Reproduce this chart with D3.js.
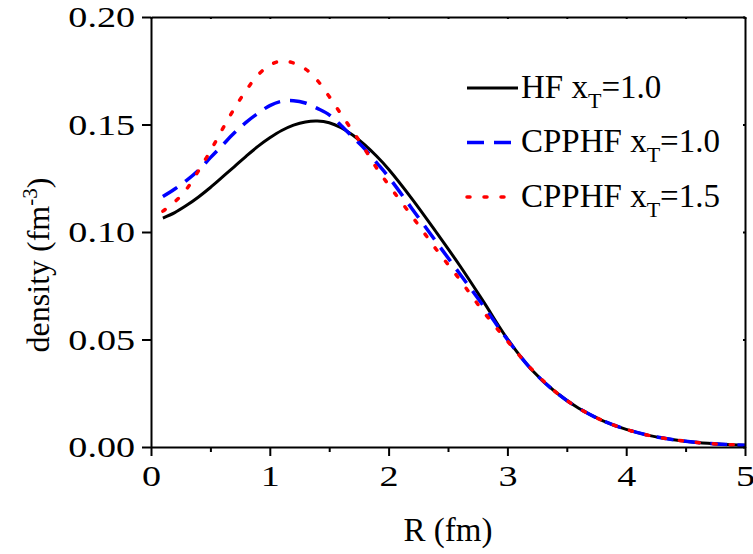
<!DOCTYPE html>
<html>
<head>
<meta charset="utf-8">
<script src="https://cdn.jsdelivr.net/npm/d3@7"></script>
<style>
  body { margin: 0; background: #fff; }
  text { font-family: "Liberation Serif", "Times New Roman", serif; }
</style>
</head>
<body>
<div id="container"></div>
<script>
/* DATA */
const radius = [0.1,0.2,0.3,0.4,0.5,0.6,0.7,0.8,0.9,1.0,1.1,1.2,1.3,1.4,1.5,1.6,1.7,1.8,1.9,2.0,
  2.2,2.4,2.6,2.8,3.0,3.2,3.4,3.6,3.8,4.0,4.2,4.4,4.6,4.8,5.0];
const hfX10 = [0.1065,0.1090,0.1124,0.1163,0.1207,0.1255,0.1303,0.1352,0.1398,0.1438,0.1472,0.1497,0.1512,0.1516,0.1508,0.1485,0.1450,0.1405,0.1352,0.1292,
  0.1152,0.1000,0.0843,0.0675,0.0503,0.0362,0.0258,0.0180,0.0123,0.0082,0.0053,0.0034,0.0021,0.0013,0.0008];
const cpphfX10 = [0.1165,0.1200,0.1240,0.1287,0.1346,0.1403,0.1460,0.1510,0.1552,0.1588,0.1608,0.1611,0.1600,0.1575,0.1545,0.1495,0.1440,0.1386,0.1322,0.1256,
  0.1106,0.0955,0.0805,0.0655,0.0500,0.0362,0.0258,0.0180,0.0123,0.0082,0.0053,0.0034,0.0021,0.0013,0.0008];
const cpphfX15 = [0.1097,0.1140,0.1200,0.1285,0.1377,0.1477,0.1573,0.1658,0.1730,0.1776,0.1795,0.1786,0.1758,0.1705,0.1630,0.1548,0.1467,0.1385,0.1297,0.1219,
  0.1071,0.0920,0.0778,0.0628,0.0493,0.0364,0.0259,0.0180,0.0123,0.0082,0.0053,0.0034,0.0021,0.0013,0.0008];
const xTicks = [0,1,2,3,4,5];
const xMinor = [0.5,1.5,2.5,3.5,4.5];
const yTicks = [0.00,0.05,0.10,0.15,0.20];
const seriesNames = ["HF", "CPPHF", "CPPHF"];
const seriesXT = ["1.0", "1.0", "1.5"];

/* SETUP */
const width = 753, height = 554;
const margin = {top: 17, right: 8, bottom: 107, left: 151};

const series = [
  {values: hfX10, color: "#000000", dash: null, width: 3},
  {values: cpphfX10, color: "#0000ff", dash: "17,10", width: 3.5},
  {values: cpphfX15, color: "#ff0000", dash: "3,14", width: 3.5}
];
series.forEach((s, i) => { s.name = seriesNames[i]; s.xt = seriesXT[i]; });

const x = d3.scaleLinear().domain([0, 5]).range([margin.left, width - margin.right]);
const y = d3.scaleLinear().domain([0, 0.20]).range([height - margin.bottom, margin.top]);

const svg = d3.select("#container")
  .append("svg")
  .attr("width", width)
  .attr("height", height);

// curves
const line = d3.line()
  .x((d, i) => x(radius[i]))
  .y(d => y(d))
  .curve(d3.curveCatmullRom.alpha(0.5));

svg.append("g")
  .selectAll("path")
  .data(series)
  .join("path")
  .attr("fill", "none")
  .attr("stroke", d => d.color)
  .attr("stroke-width", d => d.width)
  .attr("stroke-dasharray", d => d.dash)
  .attr("stroke-linecap", d => d.dash && d.dash.startsWith("3") ? "round" : "butt")
  .attr("d", d => line(d.values));

// axes
const fontSize = 30;
const stretch = 1.27; // tick labels in the original are drawn wide
const axisStyle = g => {
  g.selectAll(".domain").attr("stroke-width", 2);
  g.selectAll(".tick line").attr("stroke-width", 2);
};

svg.append("g")
  .attr("transform", `translate(0,${y(0)})`)
  .call(d3.axisBottom(x).tickValues(xMinor).tickSize(5).tickFormat("").tickSizeOuter(0))
  .call(g => g.select(".domain").remove())
  .call(axisStyle);

svg.append("g")
  .attr("transform", `translate(0,${y(0)})`)
  .call(d3.axisBottom(x).tickValues(xTicks).tickSize(9).tickPadding(9).tickFormat(d3.format("d")).tickSizeOuter(0))
  .call(axisStyle)
  .call(g => g.selectAll("text")
    .attr("font-size", fontSize).attr("fill", "#000")
    .attr("transform", `scale(${stretch},1)`));

svg.append("g")
  .attr("transform", `translate(${x(0)},0)`)
  .call(d3.axisLeft(y).tickValues(yTicks).tickSize(9).tickPadding(6).tickFormat(d3.format(".2f")).tickSizeOuter(0))
  .call(axisStyle)
  .call(g => g.selectAll("text")
    .attr("font-size", fontSize).attr("fill", "#000")
    .attr("x", -16 / stretch)
    .attr("transform", `scale(${stretch},1)`));

// mirrored top/right axes with tiny inward ticks
svg.append("g")
  .attr("transform", `translate(0,${y(0.20)})`)
  .call(d3.axisBottom(x).tickValues(xTicks.concat(xMinor)).tickSize(2).tickFormat("").tickSizeOuter(0))
  .call(axisStyle);

svg.append("g")
  .attr("transform", `translate(${x(5)},0)`)
  .call(d3.axisLeft(y).tickValues(yTicks).tickSize(2).tickFormat("").tickSizeOuter(0))
  .call(axisStyle);

// axis titles
svg.append("text")
  .attr("x", (x(0) + x(5)) / 2)
  .attr("y", 541)
  .attr("text-anchor", "middle")
  .attr("font-size", 33)
  .text("R (fm)");

const yTitle = svg.append("text")
  .attr("transform", `translate(49,${(y(0) + y(0.2)) / 2 + 33}) rotate(-90)`)
  .attr("text-anchor", "middle")
  .attr("font-size", 32);
yTitle.append("tspan").text("density (fm");
yTitle.append("tspan").attr("dy", -12).attr("font-size", 21).text("-3");
yTitle.append("tspan").attr("dy", 12).text(")");

// legend
const legend = svg.append("g")
  .selectAll("g")
  .data(series)
  .join("g")
  .attr("transform", (d, i) => `translate(467,${88 + i * 54.5})`);

legend.append("line")
  .attr("x1", 0).attr("x2", 51)
  .attr("y1", 0).attr("y2", 0)
  .attr("stroke", d => d.color)
  .attr("stroke-width", d => d.width)
  .attr("stroke-dasharray", d => d.dash)
  .attr("stroke-linecap", d => d.dash && d.dash.startsWith("3") ? "round" : "butt");

const legendText = legend.append("text")
  .attr("x", 54)
  .attr("y", 9.5)
  .attr("font-size", 33);
legendText.append("tspan").text(d => d.name + " x");
legendText.append("tspan").attr("dy", 10).attr("font-size", 22).text("T");
legendText.append("tspan").attr("dy", -10).text(d => "=" + d.xt);
</script>
</body>
</html>
